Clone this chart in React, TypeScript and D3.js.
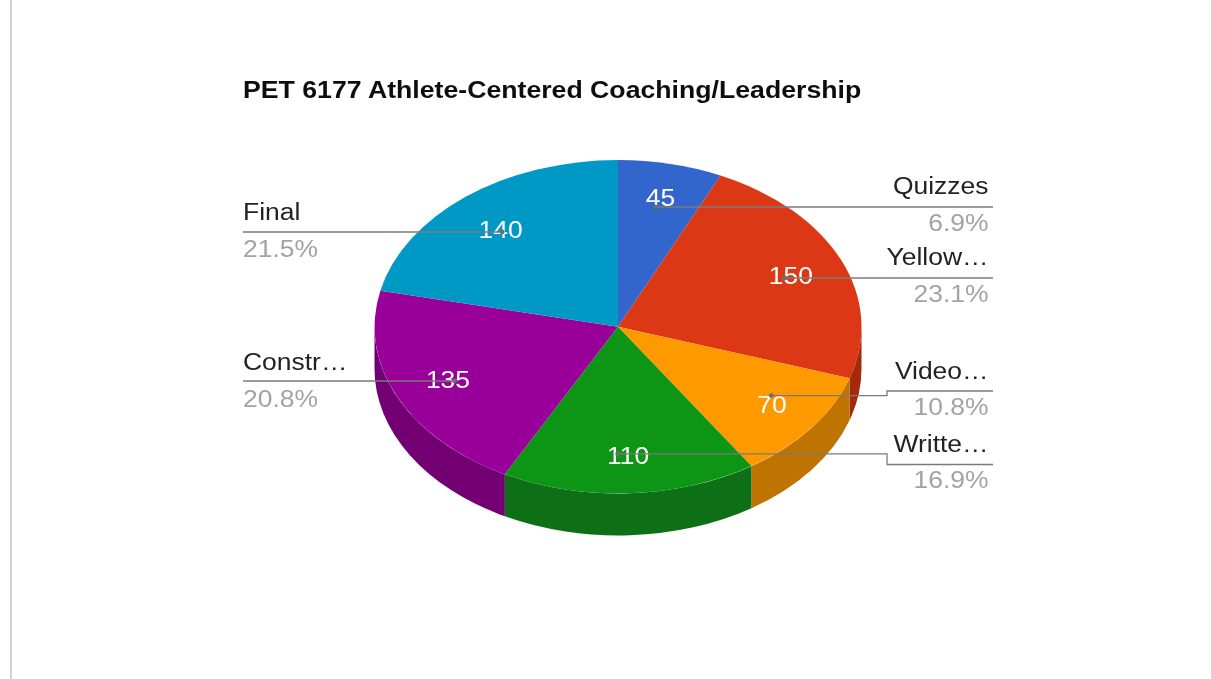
import React from "react";
import * as d3 from "d3";

const title = "PET 6177 Athlete-Centered Coaching/Leadership";
const categories = ["Quizzes", "Yellow…", "Video…", "Writte…", "Constr…", "Final"];
const values = [45, 150, 70, 110, 135, 140];
const percents = ["6.9%", "23.1%", "10.8%", "16.9%", "20.8%", "21.5%"];
const topColors = ["#3366cc", "#dc3912", "#ff9900", "#109618", "#990099", "#0099c6"];
const sideColors = ["#264d99", "#a52b0e", "#bf7300", "#0c7012", "#730073", "#007395"];

const W = 1211;
const H = 679;
const cx = 618;
const cy = 326.7;
const rx = 243.5;
const ry = 166.7;
const depth = 42;
const font = "'Liberation Sans', Arial, sans-serif";
const stretch = 1.08;

// Label layout per slice: side, name baseline, percent baseline, leader y at label,
// nudge of the dot from its slice anchor, nudge of the value text from its slice anchor
const layout = [
  { side: "r", nameY: 194, pctY: 231, lineY: 207, nudge: [-1, 1], valueNudge: [2, -3] },
  { side: "r", nameY: 265, pctY: 302, lineY: 278, nudge: [1, 1], valueNudge: [1, 1] },
  { side: "r", nameY: 379, pctY: 415, lineY: 391, nudge: [10, -6], valueNudge: [5, 0] },
  { side: "r", nameY: 452, pctY: 488, lineY: 464.5, nudge: [-9, 4], valueNudge: [1, 1] },
  { side: "l", nameY: 370, pctY: 407, lineY: 381, nudge: [0, 3], valueNudge: [0, -1] },
  { side: "l", nameY: 220, pctY: 257, lineY: 232, nudge: [-3, 2], valueNudge: [0, 3] },
];
const leftX = 243;
const rightX = 993;
const rightTextX = 988.5;
const elbowX = 887;

const pt = (a: number, r = 1, dy = 0): [number, number] => [
  cx + rx * r * Math.sin(a),
  cy - ry * r * Math.cos(a) + dy,
];

function wallPath(a0: number, a1: number): string | null {
  const s = Math.max(a0, Math.PI / 2);
  const e = Math.min(a1, (3 * Math.PI) / 2);
  if (e <= s) return null;
  const [x0, y0] = pt(s);
  const [x1, y1] = pt(e);
  const large = e - s > Math.PI ? 1 : 0;
  return (
    `M${x0},${y0}A${rx},${ry} 0 ${large} 1 ${x1},${y1}` +
    `L${x1},${y1 + depth}A${rx},${ry} 0 ${large} 0 ${x0},${y0 + depth}Z`
  );
}

function Label(props: { x: number; y: number; anchor: string; fill: string; size?: number; weight?: string; children: React.ReactNode }) {
  const { x, y, anchor, fill, size = 24.5, weight = "normal", children } = props;
  return (
    <text
      transform={`translate(${x},${y}) scale(${stretch},1)`}
      textAnchor={anchor}
      fill={fill}
      fontFamily={font}
      fontSize={size}
      fontWeight={weight}
    >
      {children}
    </text>
  );
}

export default function App() {
  const pie = d3.pie<number>().sort(null).value((d) => d);
  const slices = pie(values);
  const arc = d3.arc<d3.PieArcDatum<number>>().innerRadius(0).outerRadius(1);

  return (
    <svg
      width={W}
      height={H}
      viewBox={`0 0 ${W} ${H}`}
      style={{ position: "absolute", left: 0, top: 0, display: "block", background: "#fff" }}
    >
      <defs>
        <filter id="soft" x="-5%" y="-5%" width="110%" height="110%">
          <feGaussianBlur stdDeviation="0.45" />
        </filter>
      </defs>
      <g filter="url(#soft)">
        <line x1={11} y1={0} x2={11} y2={H} stroke="#a8a8a8" strokeWidth={1} />
        <Label x={leftX} y={98} anchor="start" fill="#111" weight="bold" size={24.7}>{title}</Label>

        {slices.map((s, i) => {
          const d = wallPath(s.startAngle, s.endAngle);
          return d ? <path key={i} d={d} fill={sideColors[i]} /> : null;
        })}
        <g transform={`translate(${cx},${cy}) scale(${rx},${ry})`}>
          {slices.map((s, i) => (
            <path key={i} d={arc(s) as string} fill={topColors[i]} />
          ))}
        </g>

        {slices.map((s, i) => {
          const mid = (s.startAngle + s.endAngle) / 2;
          const [tx, ty] = pt(mid, 0.77);
          const [nx, ny] = layout[i].valueNudge;
          return (
            <Label key={i} x={tx + nx} y={ty + 8 + ny} anchor="middle" fill="#fff" size={24.5}>
              {s.value}
            </Label>
          );
        })}

        {slices.map((s, i) => {
          const l = layout[i];
          const mid = (s.startAngle + s.endAngle) / 2;
          const [ax, ay] = pt(mid, 0.74);
          const dx = ax + l.nudge[0];
          const dy = ay + l.nudge[1];
          const endX = l.side === "r" ? rightX : leftX;
          const straight = Math.abs(dy - l.lineY) < 1;
          const p = d3.path();
          p.moveTo(dx, straight ? l.lineY : dy);
          if (!straight) {
            p.lineTo(elbowX, dy);
            p.lineTo(elbowX, l.lineY);
          }
          p.lineTo(endX, l.lineY);
          return (
            <g key={i}>
              <path d={p.toString()} fill="none" stroke="#7a7a7a" strokeWidth={1.3} />
              <circle cx={dx} cy={straight ? l.lineY : dy} r={2.4} fill="#6e6e6e" />
            </g>
          );
        })}

        {slices.map((_, i) => {
          const l = layout[i];
          const x = l.side === "r" ? rightTextX : leftX;
          const anchor = l.side === "r" ? "end" : "start";
          return (
            <g key={i}>
              <Label x={x} y={l.nameY} anchor={anchor} fill="#222">{categories[i]}</Label>
              <Label x={x} y={l.pctY} anchor={anchor} fill="#a3a3a3">{percents[i]}</Label>
            </g>
          );
        })}
      </g>
    </svg>
  );
}
